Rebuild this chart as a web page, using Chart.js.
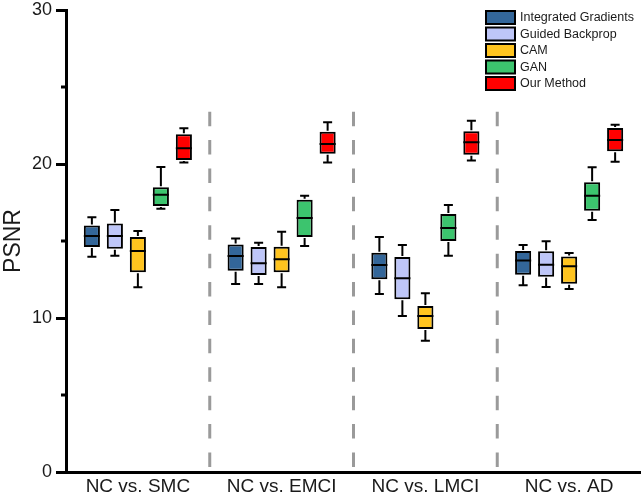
<!DOCTYPE html>
<html>
<head>
<meta charset="utf-8">
<script src="https://cdn.jsdelivr.net/npm/chart.js@4.4.1/dist/chart.umd.min.js"></script>
<style>
  html, body { margin: 0; padding: 0; background: #fff; overflow: hidden; }
  #wrap { width: 641px; height: 498px; position: relative; }
</style>
</head>
<body>
<div id="wrap"><canvas id="c"></canvas></div>
<script>
// ---- data: each entry is [min, q1, median, q3, max] per category ----
const categories = ['NC vs. SMC', 'NC vs. EMCI', 'NC vs. LMCI', 'NC vs. AD'];
const methodNames = ['Integrated Gradients', 'Guided Backprop', 'CAM', 'GAN', 'Our Method'];
const integratedGradients = [
  [13.98, 14.61, 15.32, 16.00, 16.54],
  [12.21, 13.07, 14.03, 14.78, 15.17],
  [11.56, 12.51, 13.44, 14.24, 15.26],
  [12.12, 12.81, 13.74, 14.35, 14.74]
];
const guidedBackprop = [
  [14.05, 14.50, 15.32, 16.13, 17.01],
  [12.21, 12.79, 13.55, 14.61, 14.89],
  [10.13, 11.21, 12.58, 13.96, 14.74],
  [12.01, 12.68, 13.46, 14.33, 14.98]
];
const cam = [
  [11.99, 12.97, 14.35, 15.26, 15.65],
  [11.99, 12.97, 13.81, 14.63, 15.60],
  [8.53, 9.29, 10.13, 10.78, 11.60],
  [11.88, 12.23, 13.36, 14.00, 14.22]
];
const gan = [
  [17.10, 17.27, 18.01, 18.49, 19.81],
  [14.68, 15.26, 16.49, 17.68, 17.94],
  [14.05, 15.00, 15.84, 16.75, 17.34],
  [16.36, 16.97, 17.94, 18.81, 19.79]
];
const ourMethod = [
  [20.09, 20.26, 21.02, 21.93, 22.32],
  [20.09, 20.67, 21.30, 22.10, 22.71],
  [20.22, 20.60, 21.41, 22.12, 22.81],
  [20.15, 20.82, 21.56, 22.34, 22.55]
];
const yTicksMajor = [0, 10, 20, 30];
const yTicksMinor = [5, 15, 25];
const colors = ['#336699', '#BEC6F8', '#FFC41F', '#3CC46E', '#FF0000'];

const seriesStats = [integratedGradients, guidedBackprop, cam, gan, ourMethod];
const FONT = '"Liberation Sans", Arial, sans-serif';

const datasets = seriesStats.map((stats, i) => ({
  label: methodNames[i],
  data: stats.map(s => [s[1], s[3]]),
  stats: stats,
  backgroundColor: colors[i],
  borderColor: '#000',
  borderWidth: 2,
  borderSkipped: false,
  categoryPercentage: 0.8,
  barPercentage: 0.7
}));

const boxPlugin = {
  id: 'boxExtras',
  beforeDatasetsDraw(chart) {
    const ctx = chart.ctx, xs = chart.scales.x, ys = chart.scales.y;
    ctx.save();
    ctx.strokeStyle = '#9a9a9a';
    ctx.lineWidth = 3;
    ctx.setLineDash([14.5, 13.9]);
    for (let i = 0; i < categories.length - 1; i++) {
      const x = (xs.getPixelForValue(i) + xs.getPixelForValue(i + 1)) / 2;
      ctx.beginPath();
      ctx.moveTo(x, ys.getPixelForValue(23.4));
      ctx.lineTo(x, chart.chartArea.bottom - 5);
      ctx.stroke();
    }
    ctx.restore();
  },
  afterDatasetsDraw(chart) {
    const ctx = chart.ctx, ys = chart.scales.y;
    ctx.save();
    ctx.strokeStyle = '#000';
    ctx.lineWidth = 2;
    chart.data.datasets.forEach((ds, i) => {
      const meta = chart.getDatasetMeta(i);
      meta.data.forEach((el, j) => {
        const s = ds.stats[j];
        const x = el.x, w = el.width;
        const cap = w * 0.28;
        const pMin = ys.getPixelForValue(s[0]);
        const pQ1 = ys.getPixelForValue(s[1]);
        const pMed = ys.getPixelForValue(s[2]);
        const pQ3 = ys.getPixelForValue(s[3]);
        const pMax = ys.getPixelForValue(s[4]);
        ctx.beginPath();
        ctx.moveTo(x, pQ3 - 1); ctx.lineTo(x, pMax);
        ctx.moveTo(x - cap, pMax); ctx.lineTo(x + cap, pMax);
        ctx.moveTo(x, pQ1 + 1); ctx.lineTo(x, pMin);
        ctx.moveTo(x - cap, pMin); ctx.lineTo(x + cap, pMin);
        ctx.moveTo(x - w / 2, pMed); ctx.lineTo(x + w / 2, pMed);
        ctx.stroke();
      });
    });
    // minor ticks on y axis
    const left = chart.chartArea.left;
    ctx.lineWidth = 3;
    yTicksMinor.forEach(v => {
      const y = ys.getPixelForValue(v);
      ctx.beginPath();
      ctx.moveTo(left - 5, y); ctx.lineTo(left, y);
      ctx.stroke();
    });
    ctx.restore();
  },
  afterDraw(chart) {
    const ctx = chart.ctx;
    ctx.save();
    const bx = 486, by = 11, step = 16.5;
    ctx.font = '12.5px ' + FONT;
    ctx.textBaseline = 'middle';
    ctx.textAlign = 'left';
    methodNames.forEach((name, i) => {
      const y = by + i * step;
      ctx.fillStyle = colors[i];
      ctx.fillRect(bx, y, 29, 13);
      ctx.strokeStyle = '#000';
      ctx.lineWidth = 2;
      ctx.strokeRect(bx, y, 29, 13);
      ctx.fillStyle = '#1a1a1a';
      ctx.fillText(name, bx + 34, y + 7);
    });
    ctx.restore();
  }
};

new Chart(document.getElementById('c'), {
  type: 'bar',
  data: { labels: categories, datasets: datasets },
  options: {
    responsive: true,
    maintainAspectRatio: false,
    animation: false,
    layout: { padding: { top: 10, right: 0, bottom: 0, left: 0 } },
    plugins: { legend: { display: false }, tooltip: { enabled: false } },
    scales: {
      x: {
        grid: { display: false, drawTicks: false },
        border: { display: true, color: '#000', width: 3 },
        ticks: { font: { size: 19, family: FONT }, color: '#1a1a1a', padding: 3, maxRotation: 0 },
        afterFit(scale) { scale.height = 26; scale.paddingLeft = 0; scale.paddingRight = 0; }
      },
      y: {
        min: 0, max: 30,
        afterBuildTicks(scale) { scale.ticks = yTicksMajor.map(v => ({ value: v })); },
        grid: { display: true, drawOnChartArea: false, drawTicks: true, tickLength: 10, lineWidth: 3, color: '#000' },
        border: { display: true, color: '#000', width: 3 },
        ticks: { font: { size: 18, family: FONT }, color: '#1a1a1a', padding: 4 },
        title: { display: true, text: 'PSNR', font: { size: 23, family: FONT }, color: '#1a1a1a', padding: { top: 0, bottom: 0 } },
        afterFit(scale) { scale.width = 66; scale.paddingTop = 0; scale.paddingBottom = 0; }
      }
    }
  },
  plugins: [boxPlugin]
});
</script>
</body>
</html>
